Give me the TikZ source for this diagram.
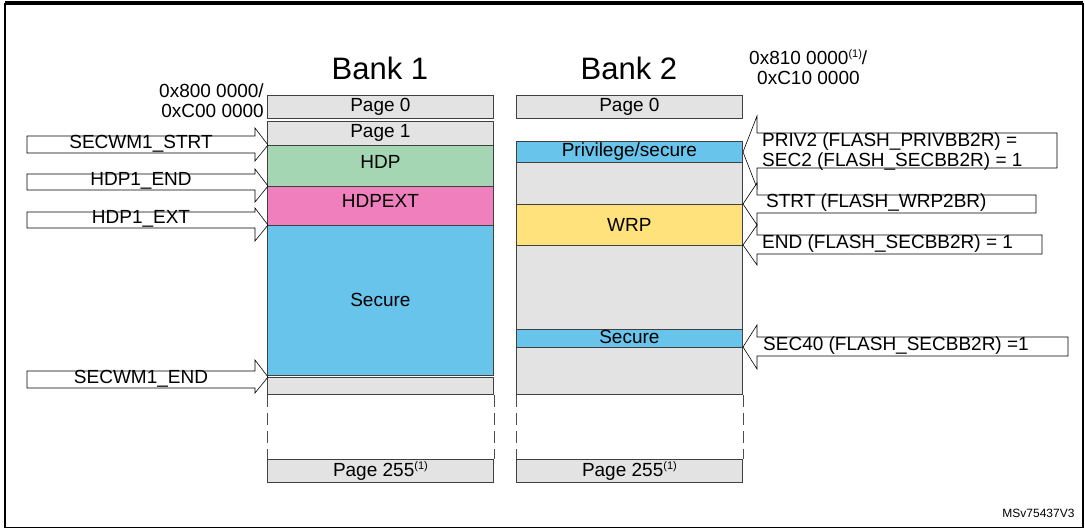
\documentclass[tikz,border=0pt]{standalone}
\usepackage{fontspec}
\setmainfont{Liberation Sans}
\newcommand\supone{\raisebox{7pt}{\fontsize{11}{11}\selectfont(1)}}
\begin{document}
\begin{tikzpicture}[x=1pt,y=-1pt,
  blk/.style={draw=black!75,line width=0.8pt,inner sep=0pt,anchor=north west},
  gr/.style={blk,fill=black!11},
  lab/.style={font=\fontsize{19}{20}\selectfont},
  arr/.style={draw=black,line width=0.6pt,fill=white}]
\useasboundingbox (0,0) rectangle (1085,529);
\draw[line width=1.5pt] (5,528) -- (5,4) -- (1083,4) -- (1083,528);
\draw[line width=3pt] (5,3) -- (1083,3);
\draw[line width=0.8pt] (5,527) -- (1083,527);
\newcommand\bx[6]{\node[#1,minimum width=226pt,minimum height=#4pt,lab] (#5) at (#2,#3) {#6};}
% Bank 1
\node[font=\fontsize{31}{32}\selectfont] (b1) at (380,68) {Bank 1};
\node[font=\fontsize{31}{32}\selectfont] (b2) at (629,68) {Bank 2};
\bx{gr}{267}{95}{23}{p0}{Page 0}
\bx{gr}{267}{121}{24}{p1}{Page 1}
\bx{blk,fill={rgb,255:red,164;green,214;blue,180}}{267}{145}{41}{hdp}{\raisebox{8pt}{HDP}}
\bx{blk,fill={rgb,255:red,240;green,127;blue,189}}{267}{186}{39}{hdpe}{\raisebox{10pt}{HDPEXT}}
\bx{blk,fill={rgb,255:red,104;green,196;blue,234}}{267}{225}{150}{sec}{Secure}
\bx{gr}{267}{377}{17}{g1}{}
\bx{gr}{267}{459}{23}{p255a}{Page 255\supone}
% Bank 2
\bx{gr}{516}{95}{23}{q0}{Page 0}
\bx{blk,fill={rgb,255:red,104;green,196;blue,234}}{516}{141}{21}{priv}{Privilege/secure}
\bx{gr}{516}{162}{42}{g2}{}
\bx{blk,fill={rgb,255:red,255;green,226;blue,124}}{516}{204}{41}{wrp}{WRP}
\bx{gr}{516}{245}{84}{g3}{}
\bx{blk,fill={rgb,255:red,104;green,196;blue,234}}{516}{329}{18}{sec2}{\raisebox{3pt}{Secure}}
\bx{gr}{516}{347}{47}{g4}{}
\bx{gr}{516}{459}{23}{p255b}{Page 255\supone}
\draw[dashed,dash pattern=on 12pt off 6pt,black!70] (g1.south west) -- (p255a.north west) (g1.south east) -- (p255a.north east)
  (g4.south west) -- (p255b.north west) (g4.south east) -- (p255b.north east);
% addresses
\node[lab,align=right,anchor=south east,inner sep=1pt] (a1) at (265,119) {0x800 0000/\\0xC00 0000};
\node[lab,align=left,anchor=north west,inner sep=1pt] (a2) at (748,48) {0x810 0000\supone/\\\hspace{8pt}0xC10 0000};
% left arrows
\newcommand\larr[5]{% name, body top, body bottom, tip y, text
 \draw[arr] (27,#2) -- (255,#2) -- (255,#4-17) -- (268,#4) -- (255,#4+16) -- (255,#3) -- (27,#3) -- cycle;
 \node[lab,inner sep=0pt] (#1) at (141,#2/2+#3/2-1) {#5};}
\larr{l1}{136}{153}{145}{SECWM1\_STRT}
\larr{l2}{174}{190}{186}{HDP1\_END}
\larr{l3}{212}{228}{225}{HDP1\_EXT}
\larr{l4}{371}{388}{377}{SECWM1\_END}
% right arrows
\newcommand\rarr[5]{% top, bottom, tip y, head half, right x
 \draw[arr] (#5,#1) -- (757,#1) -- (757,#3-#4) -- (743,#3) -- (757,#3+#4) -- (757,#2) -- (#5,#2) -- cycle;}
\rarr{133}{168}{152}{36}{1057}
\node[lab,align=left,inner sep=0pt,anchor=west] (r1) at (762,152) {PRIV2 (FLASH\_PRIVBB2R) =\\SEC2 (FLASH\_SECBB2R) = 1};
\rarr{195}{213}{204}{21}{1036}
\node[lab,inner sep=0pt,anchor=west] (r2) at (766,203) {STRT (FLASH\_WRP2BR)};
\rarr{235}{254}{245}{20}{1042}
\node[lab,inner sep=0pt,anchor=west] (r3) at (762,244) {END (FLASH\_SECBB2R) = 1};
\rarr{337}{356}{347}{22}{1068}
\node[lab,inner sep=0pt,anchor=west] (r4) at (763,346) {SEC40 (FLASH\_SECBB2R) =1};
\node[font=\fontsize{12}{12}\selectfont,anchor=south east] (id) at (1078,521) {MSv75437V3};
\end{tikzpicture}
\end{document}
